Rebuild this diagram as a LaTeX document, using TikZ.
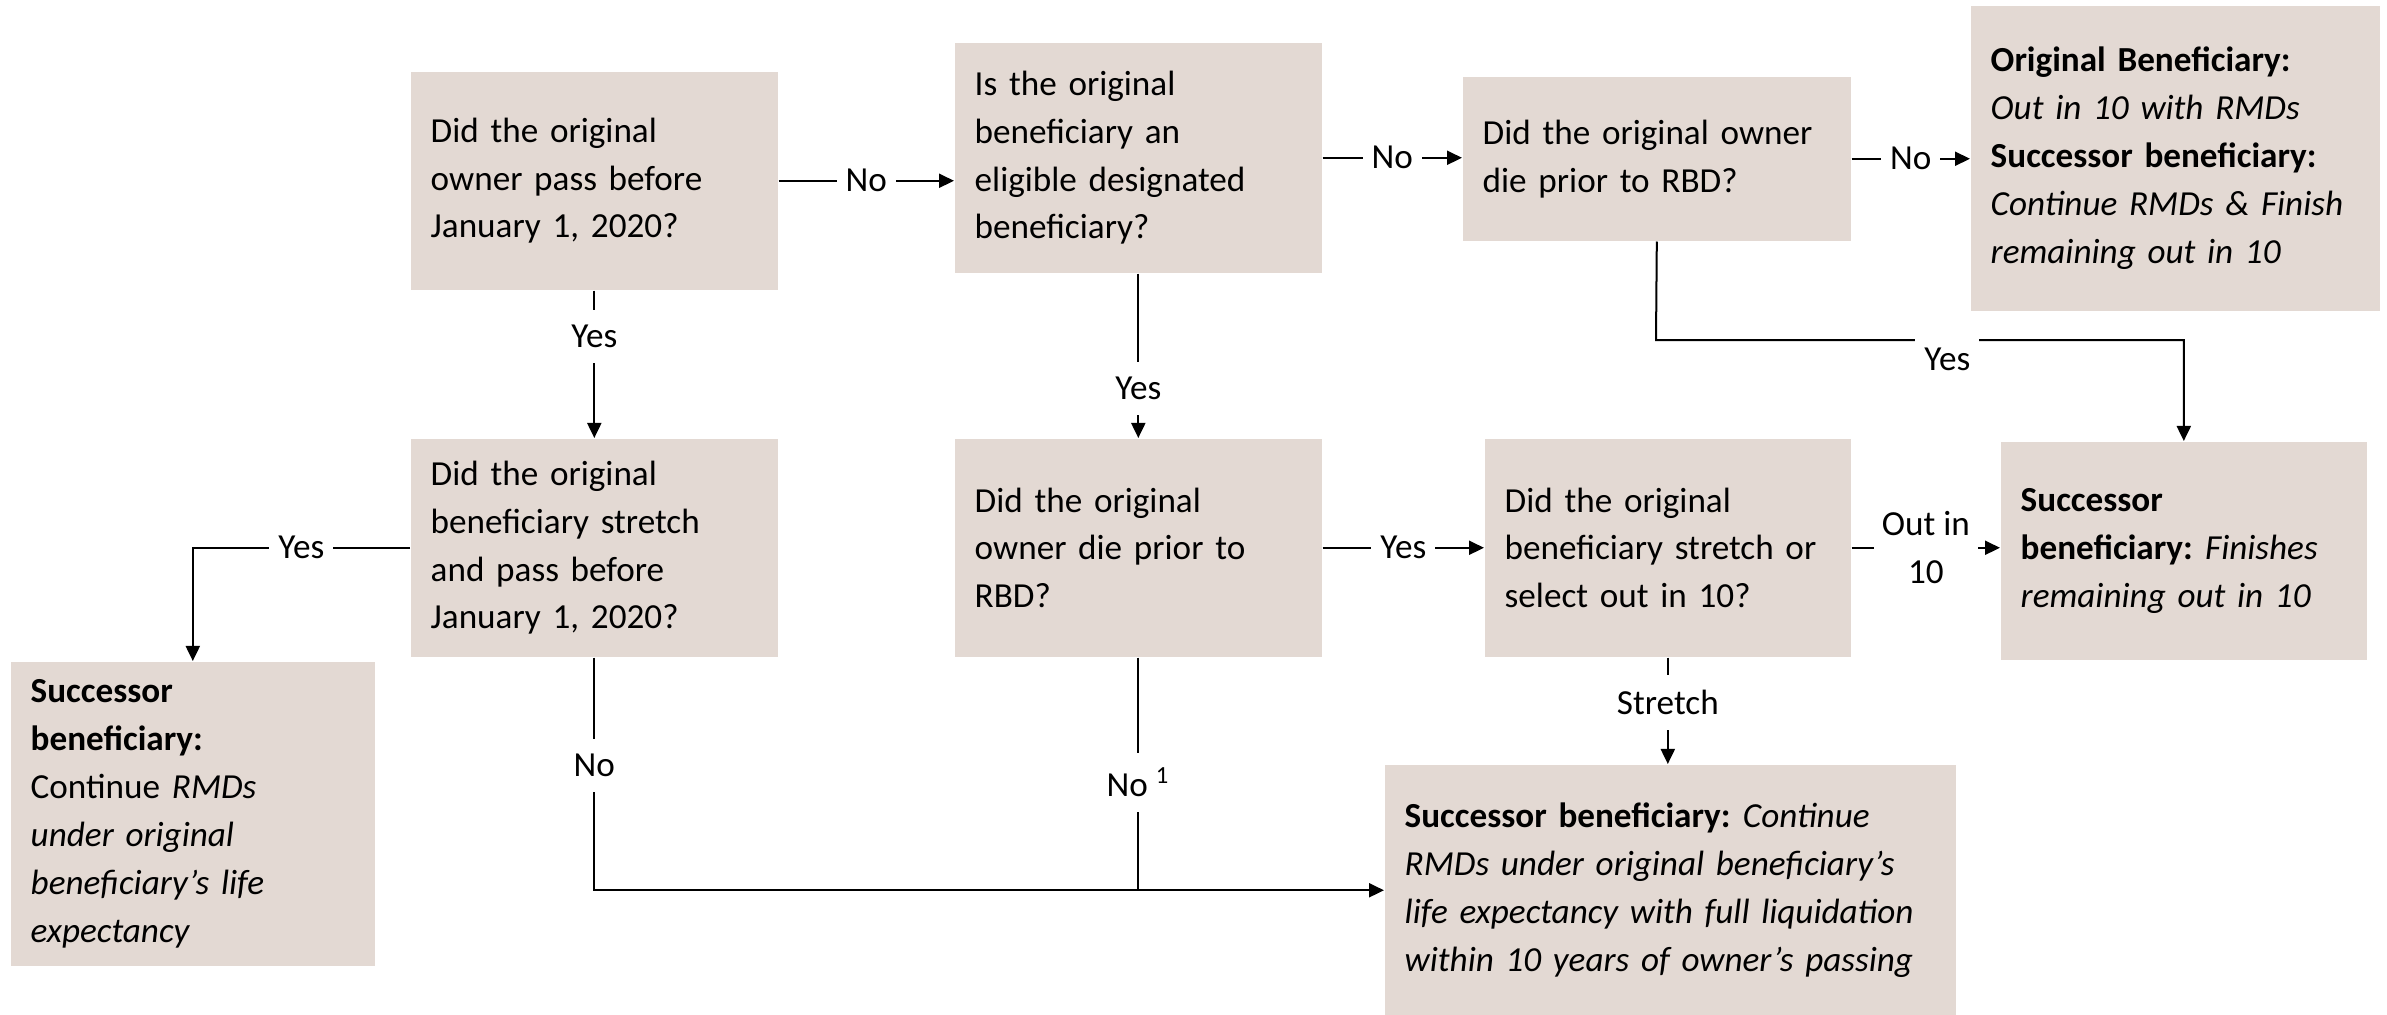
\documentclass[tikz,border=0pt]{standalone}
\usepackage{fontspec}
\setmainfont{Carlito}
\usetikzlibrary{arrows.meta,calc}
\definecolor{boxfill}{RGB}{227,217,211}
\newcommand\boxfont{\fontsize{10pt}{13.6pt}\selectfont}
\tikzset{
  box/.style={fill=boxfill, draw=none, inner xsep=0.2cm, inner ysep=0pt, align=left, anchor=north west, font=\boxfont},
  lbl/.style={fill=white, inner xsep=0.09cm, inner ysep=0.15cm, font=\boxfont},
  link/.style={line width=0.02cm},
  conn/.style={link, -{Triangle[length=0.15cm,width=0.14cm]}},
}
\begin{document}
\begin{tikzpicture}[x=0.01cm,y=-0.01cm]
\useasboundingbox (0,0) rectangle (2387,1015);
% boxes
\node[box, text width=3.27cm, minimum height=2.18cm] (A) at (410,71)
  {Did the original\\owner pass before\\January 1, 2020?};
\node[box, text width=3.27cm, minimum height=2.30cm] (B) at (954,42)
  {Is the original\\beneficiary an\\eligible designated\\beneficiary?};
\node[box, text width=3.48cm, minimum height=1.64cm] (C) at (1462,76)
  {Did the original owner\\die prior to RBD?};
\node[box, text width=3.69cm, minimum height=3.05cm] (D) at (1970,5)
  {\textbf{Original Beneficiary:}\\\textit{Out in 10 with RMDs}\\\textbf{Successor beneficiary:}\\\textit{Continue RMDs \& Finish}\\\textit{remaining out in 10}};
\node[box, text width=3.27cm, minimum height=2.18cm] (E) at (410,438)
  {Did the original\\beneficiary stretch\\and pass before\\January 1, 2020?};
\node[box, text width=3.27cm, minimum height=2.18cm] (G) at (954,438)
  {Did the original\\owner die prior to\\RBD?};
\node[box, text width=3.26cm, minimum height=2.18cm] (F) at (1484,438)
  {Did the original\\beneficiary stretch or\\select out in 10?};
\node[box, text width=3.26cm, minimum height=2.18cm] (J) at (2000,441)
  {\textbf{Successor}\\\textbf{beneficiary:}\hspace{-1.5pt} \textit{Finishes}\\\textit{remaining out in 10}};
\node[box, text width=3.24cm, minimum height=3.04cm] (H) at (10,661)
  {\textbf{Successor}\\\textbf{beneficiary:}\\Continue \textit{RMDs}\\\textit{under original}\\\textit{beneficiary’s life}\\\textit{expectancy}};
\node[box, text width=5.31cm, minimum height=2.51cm] (I) at (1384,764)
  {\textbf{Successor beneficiary:}\hspace{-1.5pt} \textit{Continue}\\\textit{RMDs under original beneficiary’s}\\\textit{life expectancy with full liquidation}\\\textit{within 10 years of owner’s passing}};
% connectors
\draw[conn] (A.east) -- node[lbl] (lAB) {No} (A.east -| B.west);
\draw[conn] (B.east) -- node[lbl] (lBC) {No} (B.east -| C.west);
\draw[conn] (C.east) -- node[lbl] (lCD) {No} (C.east -| D.west);
\draw[conn] (A.south) -- node[lbl, pos=0.31] (lAE) {Yes} (E.north);
\draw[conn] (B.south) -- node[lbl, pos=0.70] (lBG) {Yes} (G.north);
\coordinate (cj) at (1656,340);
\draw[conn] (C.south) -- (cj) -| node[lbl, pos=0.276, anchor=north, yshift=0.07cm, inner ysep=0.14cm] (lCJ) {Yes} (J.north);
\draw[conn] (E.west) -| node[lbl, pos=0.25] (lEH) {Yes} (H.north);
\draw[conn] (G.east) -- node[lbl] (lGF) {Yes} (G.east -| F.west);
\draw[conn] (F.east) -- node[lbl, align=center, inner xsep=0.08cm] (lFJ) {Out in\\10} (F.east -| J.west);
\draw[conn] (F.south) -- node[lbl, pos=0.42] (lFI) {Stretch} (F.south |- I.north);
\draw[link] (G.south) -- node[lbl, pos=0.536] (lGI) {No \textsuperscript{1}} (G.south |- I.west);
\draw[conn] (E.south) |- node[lbl, pos=0.232] (lEI) {No} (I.west);
\end{tikzpicture}
\end{document}
